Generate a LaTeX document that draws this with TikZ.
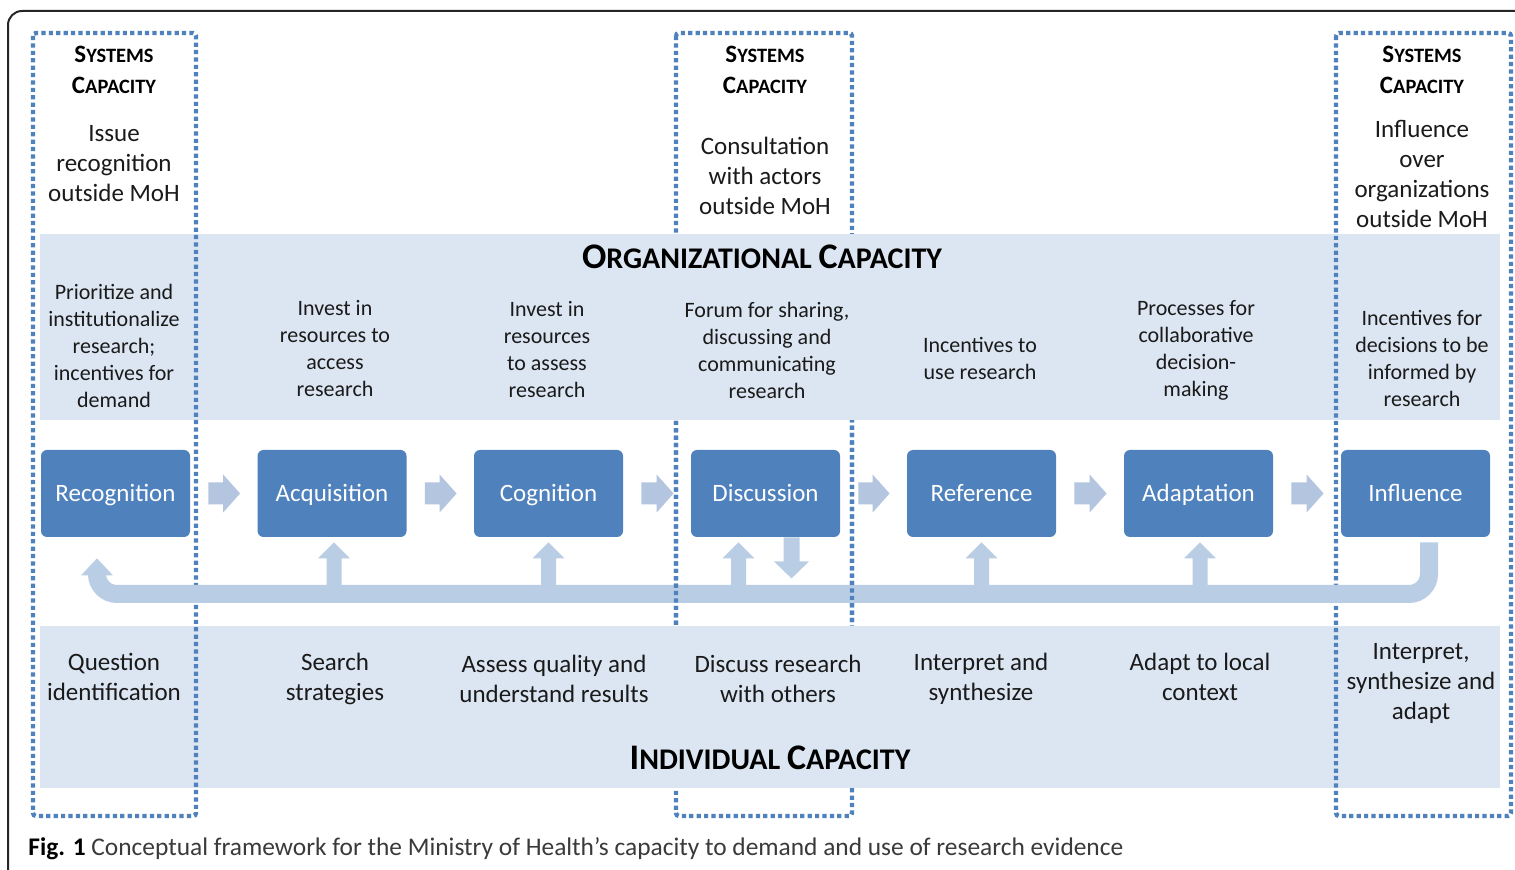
\documentclass[tikz,border=0pt]{standalone}
\usepackage{fontspec}
\setmainfont{Carlito}
\usetikzlibrary{calc}

\definecolor{boxblue}{HTML}{4F81BD}
\definecolor{bandblue}{HTML}{DCE6F2}
\definecolor{loopblue}{HTML}{B9CDE5}
\definecolor{stepblue}{HTML}{B4C5E0}
\definecolor{inkgray}{HTML}{1A1A1A}
\definecolor{capgray}{HTML}{3A3A3A}

% fake small capitals: size of initial, size of the rest, initial, rest
\newcommand\fsc[4]{{\fontsize{#1}{#1}\selectfont #3}{\fontsize{#2}{#2}\selectfont #4}}
% word space at a given size
\newcommand\wsp[1]{{\fontsize{#1}{#1}\selectfont\ }}

% block arrow pointing right, from node #1 to node #2
\newcommand\rblock[2]{%
  \fill[stepfill] ($(#1.east)+(18,-11)$) -- ($(#2.west)+(-34,-11)$) -- ($(#2.west)+(-34,-19)$)
    -- ($(#2.west)+(-17,0)$) -- ($(#2.west)+(-34,19)$) -- ($(#2.west)+(-34,11)$)
    -- ($(#1.east)+(18,11)$) -- cycle;}
% block arrow rising from the feedback bar into node #1, shifted by #2
\newcommand\upblock[2]{%
  \fill[loopfill] ($(#1.south)+(#2-7.5,57)$) -- ($(#1.south)+(#2-7.5,21)$) -- ($(#1.south)+(#2-16,21)$)
    -- ($(#1.south)+(#2,5)$) -- ($(#1.south)+(#2+16,21)$) -- ($(#1.south)+(#2+7.5,21)$)
    -- ($(#1.south)+(#2+7.5,57)$) -- cycle;}
% block arrow falling from node #1 towards the bar, shifted by #2
\newcommand\downblock[2]{%
  \fill[loopfill] ($(#1.south)+(#2-8,0)$) -- ($(#1.south)+(#2-8,24)$) -- ($(#1.south)+(#2-17.5,24)$)
    -- ($(#1.south)+(#2,41)$) -- ($(#1.south)+(#2+17.5,24)$) -- ($(#1.south)+(#2+8,24)$)
    -- ($(#1.south)+(#2+8,0)$) -- cycle;}

\begin{document}
\begin{tikzpicture}[x=0.5pt,y=-0.5pt,
  systembox/.style={draw=boxblue, line width=2.2pt, dash pattern=on 2.1pt off 1.6pt, rounded corners=1.5pt},
  stagebox/.style={fill=boxblue, rounded corners=3pt, minimum width=74.5pt, minimum height=43.5pt,
    inner sep=0pt, text height=10pt, text depth=2pt, text=white, font=\fontsize{12.5}{15}\selectfont},
  stepfill/.style={fill=stepblue},
  loopfill/.style={fill=loopblue},
  loopbar/.style={draw=loopblue, line width=9pt, rounded corners=10pt},
  toptext/.style={align=center, inner sep=0pt, text=inkgray, font=\fontsize{12.5}{15}\selectfont},
  orgtext/.style={align=center, inner sep=0pt, text=inkgray, font=\fontsize{11}{13.5}\selectfont},
  sctitle/.style={align=center, inner sep=0pt, text=black, font=\bfseries\fontsize{12.5}{15.5}\selectfont},
  bandtitle/.style={inner sep=0pt, text=black, font=\bfseries}]

\useasboundingbox (0,0) rectangle (1515,870);
\clip (0,0) rectangle (1515,870);
\fill[white] (0,0) rectangle (1515,870);

% outer frame
\draw[line width=1pt, rounded corners=7pt, black!85] (8,11) rectangle (1545,885);

% central systems box, lying behind the two bands
\draw[systembox] (676,33) rectangle (852,816);

% organizational and individual bands
\fill[bandblue] (40,234) rectangle (1500,420);
\fill[bandblue] (40,626) rectangle (1500,788);

% outer systems boxes
\draw[systembox] (33,33) rectangle (196,816);
\draw[systembox] (1336,33) rectangle (1511,816);

% stage boxes
\node[stagebox] (recog) at (115.5,493.5) {Recognition};
\node[stagebox] (acq)   at (332,493.5)   {Acquisition};
\node[stagebox] (cog)   at (548.5,493.5) {Cognition};
\node[stagebox] (disc)  at (765.5,493.5) {Discussion};
\node[stagebox] (ref)   at (981.5,493.5) {Reference};
\node[stagebox] (adapt) at (1198.5,493.5){Adaptation};
\node[stagebox] (infl)  at (1415.5,493.5){Influence};

% arrows between stages
\rblock{recog}{acq}
\rblock{acq}{cog}
\rblock{cog}{disc}
\rblock{disc}{ref}
\rblock{ref}{adapt}
\rblock{adapt}{infl}

% feedback loop
\coordinate (loopR) at ($(infl.south)+(13.5,5)$);
\coordinate (loopL) at ($(recog.south)+(-18.5,37)$);
\coordinate (barmid) at (760,594);
\draw[loopbar] (loopR) |- (barmid) -| (loopL);
\fill[loopfill] ($(loopL)+(-16,1)$) -- ($(loopL)+(16,1)$) -- ($(loopL)+(0,-16)$) -- cycle;
\upblock{acq}{2}
\upblock{cog}{0}
\upblock{disc}{-27}
\downblock{disc}{26}
\upblock{ref}{0}
\upblock{adapt}{1.5}

% central systems box where it crosses the loop
\begin{scope}
  \clip (600,421) rectangle (900,625);
  \draw[systembox] (676,33) rectangle (852,816);
\end{scope}

% systems capacity headings
\node[sctitle] (sysL) at (114,70)  {\fsc{12.5}{10.2}{S}{YSTEMS}\\\fsc{12.5}{10.2}{C}{APACITY}};
\node[sctitle] (sysM) at (765,70)  {\fsc{12.5}{10.2}{S}{YSTEMS}\\\fsc{12.5}{10.2}{C}{APACITY}};
\node[sctitle] (sysR) at (1422,70) {\fsc{12.5}{10.2}{S}{YSTEMS}\\\fsc{12.5}{10.2}{C}{APACITY}};

\node[toptext] (issue)   at (114,164)  {Issue\\recognition\\outside MoH};
\node[toptext] (consult) at (765,176)  {Consultation\\with actors\\outside MoH};
\node[toptext] (over)    at (1422,174) {Influence\\over\\organizations\\outside MoH};

% organizational band
\node[bandtitle] (orgT) at (762,257) {\fsc{18}{15}{O}{RGANIZATIONAL}\wsp{15}\fsc{18}{15}{C}{APACITY}};
\node[orgtext] (o1) at (114,346)   {Prioritize and\\institutionalize\\research;\\incentives for\\demand};
\node[orgtext] (o2) at (335,348.5) {Invest in\\resources to\\access\\research};
\node[orgtext] (o3) at (547,349.5) {Invest in\\resources\\to assess\\research};
\node[orgtext] (o4) at (767,350)   {Forum for sharing,\\discussing and\\communicating\\research};
\node[orgtext] (o5) at (980,358.5) {Incentives to\\use research};
\node[orgtext] (o6) at (1196,350)  {Processes for\\collaborative\\decision-\\making};
\node[orgtext] (o7) at (1422,358.5){Incentives for\\decisions to be\\informed by\\research};

% individual band
\node[toptext] (i1) at (114,677)  {Question\\identification};
\node[toptext] (i2) at (335,679)  {Search\\strategies};
\node[toptext] (i3) at (554,679)  {Assess quality and\\understand results};
\node[toptext] (i4) at (778,679)  {Discuss research\\with others};
\node[toptext] (i5) at (981,679)  {Interpret and\\synthesize};
\node[toptext] (i6) at (1200,677) {Adapt to local\\context};
\node[toptext] (i7) at (1421,683) {Interpret,\\synthesize and\\adapt};
\node[bandtitle] (indT) at (770,758) {\fsc{18}{15}{I}{NDIVIDUAL}\wsp{15}\fsc{18}{15}{C}{APACITY}};

% caption
\node[anchor=base west, inner sep=0pt, font=\fontsize{12.7}{15}\selectfont] (cap) at (28,855)
  {\textbf{Fig. 1} {\color{capgray}Conceptual framework for the Ministry of Health’s capacity to demand and use of research evidence}};
\end{tikzpicture}
\end{document}
